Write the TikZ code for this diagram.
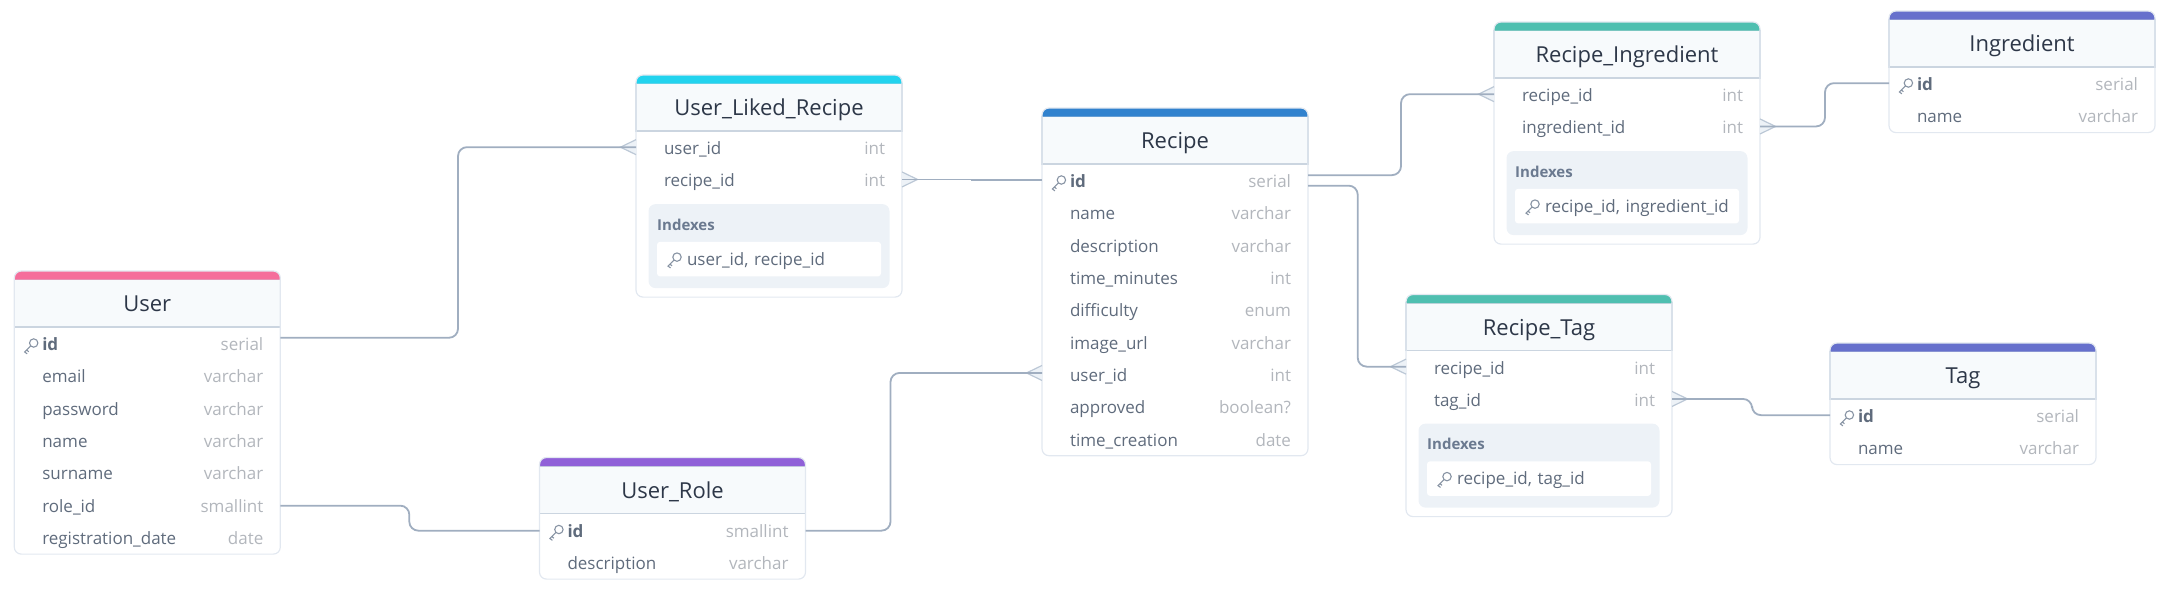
\documentclass[tikz,border=0pt]{standalone}
\usepackage{fontspec}
\setmainfont{Open Sans}
\usetikzlibrary{positioning,fit}

\definecolor{pinkbar}{HTML}{F56E9B}
\definecolor{cyanbar}{HTML}{22D3EE}
\definecolor{bluebar}{HTML}{3182CE}
\definecolor{tealbar}{HTML}{4FBFB0}
\definecolor{indigobar}{HTML}{6670CC}
\definecolor{purplebar}{HTML}{9060D8}
\definecolor{headfill}{HTML}{F7FAFC}
\definecolor{headline}{HTML}{CBD5E0}
\definecolor{frameline}{HTML}{E2E8F0}
\definecolor{titlecol}{HTML}{2D3748}
\definecolor{fieldcol}{HTML}{5F6B7C}
\definecolor{typecol}{HTML}{B2B6BC}
\definecolor{idxfill}{HTML}{EDF2F7}
\definecolor{idxtext}{HTML}{6B7A90}
\definecolor{relcol}{HTML}{A0AEC0}
\definecolor{footcol}{HTML}{BCC8D6}
\definecolor{keycol}{HTML}{8793A3}

\newcommand{\ty}[1]{\hfill\textcolor{typecol}{#1}}

\begin{document}
\begin{tikzpicture}[x=1pt,y=-1pt]
\tikzset{head/.style={draw=headline,fill=headfill,line width=1.2pt,outer sep=0pt,minimum width=266pt,minimum height=47.5pt,inner sep=0pt,text=titlecol,font=\fontsize{22}{26}\selectfont,text height=22pt,text depth=5pt},
fld/.style={outer sep=0pt,minimum width=266pt,minimum height=32.3pt,inner ysep=0pt,inner xsep=17pt,text width=232pt,text height=17pt,text depth=4pt,align=left,text=fieldcol,font=\fontsize{17}{20}\selectfont},
frame/.style={draw=frameline,line width=1.2pt,rounded corners=7pt,inner sep=0pt,outer sep=0pt},
idxbox/.style={fill=idxfill,rounded corners=7pt,outer sep=0pt,minimum width=241pt,minimum height=84pt,inner sep=0pt},
idxtitle/.style={anchor=west,inner sep=0pt,text=idxtext,font=\fontsize{15}{18}\selectfont\bfseries},
idxkey/.style={fill=white,rounded corners=3pt,outer sep=0pt,minimum width=224pt,minimum height=34.5pt,inner ysep=0pt,inner xsep=4pt,text width=216pt,text height=16pt,text depth=4pt,align=left,text=fieldcol,font=\fontsize{17}{20}\selectfont},
rel/.style={draw=relcol,line width=1.8pt,rounded corners=9pt},
foot/.style={draw=footcol,fill=idxfill,line width=1.2pt},
crowleft/.pic={\path[foot] (0,-8.5) -- (-15.5,-1) -- (0,6.5);},
crowright/.pic={\path[foot] (0,-8.5) -- (15.5,-1) -- (0,6.5);},
keyicon/.pic={\draw[keycol,line width=1.1pt] (3,-3) circle (4.2) (0.1,-0.1) -- (-6,6) -- (-3.5,7.8) (-4,4) -- (-2,5.8);},
topbar/.style={rounded corners=7pt},
}

% bounding box
\useasboundingbox (0,0) rectangle (2168,590);

% User
\node[head] (user) at (147.3,303.25) {User};
\coordinate (user_top) at ([yshift=8.5pt]user.north);
\fill[pinkbar] (user.north west) [topbar] -- ([yshift=8.5pt]user.north west) -- ([yshift=8.5pt]user.north east) [sharp corners] -- (user.north east) -- cycle;
\node[fld] (user_id) [below=1pt of user] {\hspace*{11pt}\textbf{id}\ty{serial}};
\node[fld] (user_email) [below=0pt of user_id] {\hspace*{11pt}email\ty{varchar}};
\node[fld] (user_password) [below=0pt of user_email] {\hspace*{11pt}password\ty{varchar}};
\node[fld] (user_name) [below=0pt of user_password] {\hspace*{11pt}name\ty{varchar}};
\node[fld] (user_surname) [below=0pt of user_name] {\hspace*{11pt}surname\ty{varchar}};
\node[fld] (user_role) [below=0pt of user_surname] {\hspace*{11pt}role\_id\ty{smallint}};
\node[fld] (user_date) [below=0pt of user_role] {\hspace*{11pt}registration\_date\ty{date}};
\node[frame,fit=(user_top)(user)(user_date)] (user_frame) {};
\pic at ([shift={(16.4,1.85)}]user_id.west) {keyicon};

% User_Role
\node[head] (role) at (672.5,489.75) {User\_Role};
\coordinate (role_top) at ([yshift=8.5pt]role.north);
\fill[purplebar] (role.north west) [topbar] -- ([yshift=8.5pt]role.north west) -- ([yshift=8.5pt]role.north east) [sharp corners] -- (role.north east) -- cycle;
\node[fld] (role_id) [below=1pt of role] {\hspace*{11pt}\textbf{id}\ty{smallint}};
\node[fld] (role_desc) [below=0pt of role_id] {\hspace*{11pt}description\ty{varchar}};
\node[frame,fit=(role_top)(role)(role_desc)] (role_frame) {};
\pic at ([shift={(16.4,1.85)}]role_id.west) {keyicon};

% User_Liked_Recipe
\node[head] (liked) at (769,107.25) {User\_Liked\_Recipe};
\coordinate (liked_top) at ([yshift=8.5pt]liked.north);
\fill[cyanbar] (liked.north west) [topbar] -- ([yshift=8.5pt]liked.north west) -- ([yshift=8.5pt]liked.north east) [sharp corners] -- (liked.north east) -- cycle;
\node[fld] (liked_user) [below=1pt of liked] {\hspace*{11pt}user\_id\ty{int}};
\node[fld] (liked_recipe) [below=0pt of liked_user] {\hspace*{11pt}recipe\_id\ty{int}};
\node[idxbox] (liked_idx) [below=7.5pt of liked_recipe] {};
\node[idxtitle] (liked_idxt) at ([shift={(8.5,20.4)}]liked_idx.north west) {Indexes};
\node[idxkey] (liked_key) at ([shift={(120.5,55)}]liked_idx.north west) {\hspace*{26pt}user\_id, recipe\_id};
\coordinate (liked_end) at ([yshift=-9pt]liked_idx.south);
\node[frame,fit=(liked_top)(liked)(liked_end)] (liked_frame) {};
\pic at ([shift={(17,1)}]liked_key.west) {keyicon};
\pic at (liked_user.west) {crowleft};
\pic at (liked_recipe.east) {crowright};

% Recipe
\node[head] (recipe) at (1175,140.25) {Recipe};
\coordinate (recipe_top) at ([yshift=8.5pt]recipe.north);
\fill[bluebar] (recipe.north west) [topbar] -- ([yshift=8.5pt]recipe.north west) -- ([yshift=8.5pt]recipe.north east) [sharp corners] -- (recipe.north east) -- cycle;
\node[fld] (recipe_id) [below=1pt of recipe] {\hspace*{11pt}\textbf{id}\ty{serial}};
\node[fld] (recipe_name) [below=0pt of recipe_id] {\hspace*{11pt}name\ty{varchar}};
\node[fld] (recipe_desc) [below=0pt of recipe_name] {\hspace*{11pt}description\ty{varchar}};
\node[fld] (recipe_time) [below=0pt of recipe_desc] {\hspace*{11pt}time\_minutes\ty{int}};
\node[fld] (recipe_diff) [below=0pt of recipe_time] {\hspace*{11pt}difficulty\ty{enum}};
\node[fld] (recipe_image) [below=0pt of recipe_diff] {\hspace*{11pt}image\_url\ty{varchar}};
\node[fld] (recipe_user) [below=0pt of recipe_image] {\hspace*{11pt}user\_id\ty{int}};
\node[fld] (recipe_appr) [below=0pt of recipe_user] {\hspace*{11pt}approved\ty{boolean?}};
\node[fld] (recipe_crea) [below=0pt of recipe_appr] {\hspace*{11pt}time\_creation\ty{date}};
\node[frame,fit=(recipe_top)(recipe)(recipe_crea)] (recipe_frame) {};
\pic at ([shift={(16.4,1.85)}]recipe_id.west) {keyicon};
\pic at ([yshift=1pt]recipe_user.west) {crowleft};

% Recipe_Ingredient
\node[head] (ringr) at (1627,54.25) {Recipe\_Ingredient};
\coordinate (ringr_top) at ([yshift=8.5pt]ringr.north);
\fill[tealbar] (ringr.north west) [topbar] -- ([yshift=8.5pt]ringr.north west) -- ([yshift=8.5pt]ringr.north east) [sharp corners] -- (ringr.north east) -- cycle;
\node[fld] (ringr_recipe) [below=1pt of ringr] {\hspace*{11pt}recipe\_id\ty{int}};
\node[fld] (ringr_ingr) [below=0pt of ringr_recipe] {\hspace*{11pt}ingredient\_id\ty{int}};
\node[idxbox] (ringr_idx) [below=7.5pt of ringr_ingr] {};
\node[idxtitle] (ringr_idxt) at ([shift={(8.5,20.4)}]ringr_idx.north west) {Indexes};
\node[idxkey] (ringr_key) at ([shift={(120.5,55)}]ringr_idx.north west) {\hspace*{26pt}recipe\_id, ingredient\_id};
\coordinate (ringr_end) at ([yshift=-9pt]ringr_idx.south);
\node[frame,fit=(ringr_top)(ringr)(ringr_end)] (ringr_frame) {};
\pic at ([shift={(17,1)}]ringr_key.west) {keyicon};
\pic at (ringr_recipe.west) {crowleft};
\pic at (ringr_ingr.east) {crowright};

% Recipe_Tag
\node[head] (rtag) at (1539,326.75) {Recipe\_Tag};
\coordinate (rtag_top) at ([yshift=8.5pt]rtag.north);
\fill[tealbar] (rtag.north west) [topbar] -- ([yshift=8.5pt]rtag.north west) -- ([yshift=8.5pt]rtag.north east) [sharp corners] -- (rtag.north east) -- cycle;
\node[fld] (rtag_recipe) [below=1pt of rtag] {\hspace*{11pt}recipe\_id\ty{int}};
\node[fld] (rtag_tag) [below=0pt of rtag_recipe] {\hspace*{11pt}tag\_id\ty{int}};
\node[idxbox] (rtag_idx) [below=7.5pt of rtag_tag] {};
\node[idxtitle] (rtag_idxt) at ([shift={(8.5,20.4)}]rtag_idx.north west) {Indexes};
\node[idxkey] (rtag_key) at ([shift={(120.5,55)}]rtag_idx.north west) {\hspace*{26pt}recipe\_id, tag\_id};
\coordinate (rtag_end) at ([yshift=-9pt]rtag_idx.south);
\node[frame,fit=(rtag_top)(rtag)(rtag_end)] (rtag_frame) {};
\pic at ([shift={(17,1)}]rtag_key.west) {keyicon};
\pic at (rtag_recipe.west) {crowleft};
\pic at (rtag_tag.east) {crowright};

% Ingredient
\node[head] (ingr) at (2022,43.25) {Ingredient};
\coordinate (ingr_top) at ([yshift=8.5pt]ingr.north);
\fill[indigobar] (ingr.north west) [topbar] -- ([yshift=8.5pt]ingr.north west) -- ([yshift=8.5pt]ingr.north east) [sharp corners] -- (ingr.north east) -- cycle;
\node[fld] (ingr_id) [below=1pt of ingr] {\hspace*{11pt}\textbf{id}\ty{serial}};
\node[fld] (ingr_name) [below=0pt of ingr_id] {\hspace*{11pt}name\ty{varchar}};
\node[frame,fit=(ingr_top)(ingr)(ingr_name)] (ingr_frame) {};
\pic at ([shift={(16.4,1.85)}]ingr_id.west) {keyicon};

% Tag
\node[head] (tag) at (1963,375.25) {Tag};
\coordinate (tag_top) at ([yshift=8.5pt]tag.north);
\fill[indigobar] (tag.north west) [topbar] -- ([yshift=8.5pt]tag.north west) -- ([yshift=8.5pt]tag.north east) [sharp corners] -- (tag.north east) -- cycle;
\node[fld] (tag_id) [below=1pt of tag] {\hspace*{11pt}\textbf{id}\ty{serial}};
\node[fld] (tag_name) [below=0pt of tag_id] {\hspace*{11pt}name\ty{varchar}};
\node[frame,fit=(tag_top)(tag)(tag_name)] (tag_frame) {};
\pic at ([shift={(16.4,1.85)}]tag_id.west) {keyicon};

% connectors
\draw[rel] ([yshift=6.4pt]user_id.east) -- ++(177.7,0) |- ([yshift=1pt]liked_user.west);
\draw[rel] (user_role.east) -- ++(129,0) |- (role_id.west);
\draw[rel] (role_id.east) -- ++(85,0) |- ([yshift=2pt]recipe_user.west);
\draw[rel,rounded corners=0pt] ([yshift=1pt]liked_recipe.east) -- ++(70,0) |- ([yshift=1pt]recipe_id.west);
\draw[rel] ([yshift=6pt]recipe_id.east) -- ++(93,0) |- ([yshift=1pt]ringr_recipe.west);
\draw[rel] ([yshift=-4.5pt]recipe_id.east) -- ++(49.7,0) |- ([yshift=1pt]rtag_recipe.west);
\draw[rel] ([yshift=1pt]ringr_ingr.east) -- ++(65,0) |- ([yshift=1pt]ingr_id.west);
\draw[rel] ([yshift=1pt]rtag_tag.east) -- ++(80,0) |- ([yshift=1pt]tag_id.west);

\end{tikzpicture}
\end{document}
